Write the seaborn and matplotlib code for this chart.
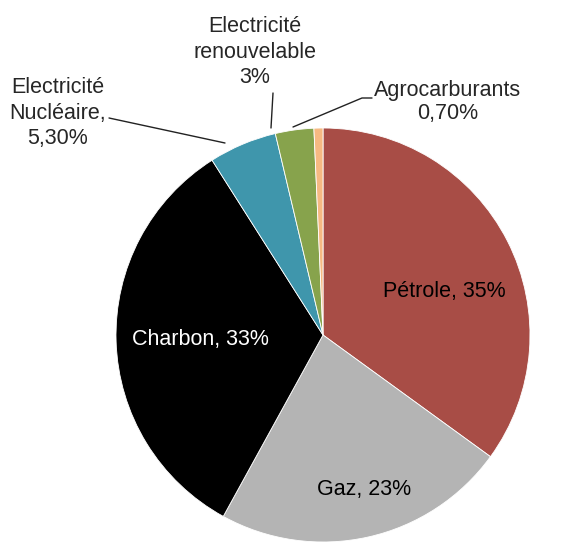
import matplotlib
matplotlib.use("Agg")
import matplotlib.pyplot as plt
import seaborn as sns

# energy mix shares (%), clockwise from 12 o'clock
categories = ["Pétrole", "Gaz", "Charbon", "Electricité Nucléaire",
              "Electricité renouvelable", "Agrocarburants"]
shares = [35, 23, 33, 5.3, 3, 0.7]
label_texts = ["Pétrole, 35%", "Gaz, 23%", "Charbon, 33%",
               "Electricité\nNucléaire,\n5,30%",
               "Electricité\nrenouvelable\n3%",
               "Agrocarburants\n0,70%"]
colors = ["#A84D46", "#B4B4B4", "#000000", "#3F96AC", "#87A34C", "#F6B982"]

sns.set_theme(style="white")
plt.rcParams["font.family"] = ["Liberation Sans", "DejaVu Sans"]

W, H = 571, 544
CX, CY, R = 323, 335, 207  # pie centre / radius in pixels


def px(x, y):
    # pixel position (from top-left) -> data coords with radius 1
    return (x - CX) / R, (CY - y) / R


fig = plt.figure(figsize=(W / 100, H / 100), dpi=100)
ax = fig.add_axes([0, 0, 1, 1])
ax.pie(shares, colors=colors, startangle=90, counterclock=False,
       radius=1, wedgeprops=dict(edgecolor="white", linewidth=0.6))
ax.set_xlim(-CX / R, (W - CX) / R)
ax.set_ylim(-(H - CY) / R, CY / R)
ax.axis("off")

fs = 15.5
# labels inside slices
ax.text(*px(444, 292), label_texts[0], ha="center", va="center", fontsize=fs, color="black")
ax.text(*px(364, 489), label_texts[1], ha="center", va="center", fontsize=fs, color="black")
ax.text(*px(200, 339), label_texts[2], ha="center", va="center", fontsize=fs, color="white")

# outside labels with leader lines
ax.text(*px(58, 113), label_texts[3], ha="center", va="center", fontsize=fs,
        linespacing=1.3)
ax.text(*px(255, 52), label_texts[4], ha="center", va="center", fontsize=fs,
        linespacing=1.3)
ax.text(*px(448, 102), label_texts[5], ha="center", va="center", fontsize=fs,
        linespacing=1.15)

lc = "#222222"
for pts in [[(109, 118), (225, 143)],
            [(273, 93), (271, 128)],
            [(372, 98), (362, 98), (293, 127)]]:
    xs, ys = zip(*[px(x, y) for x, y in pts])
    ax.plot(xs, ys, color=lc, linewidth=1.0)

fig.savefig("out.png", dpi=100)
